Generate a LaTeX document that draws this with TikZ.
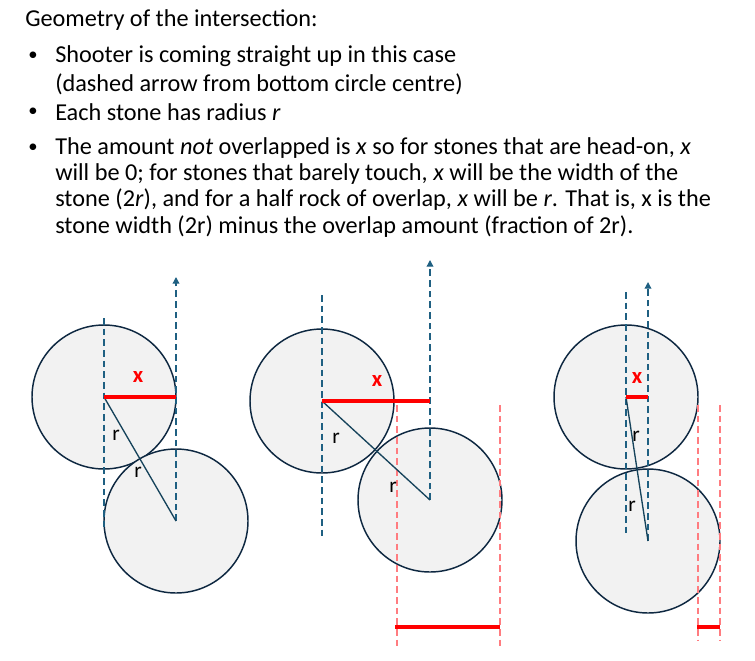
\documentclass[tikz,border=0pt]{standalone}
\usepackage{fontspec}
\setmainfont{Carlito}
\usetikzlibrary{arrows.meta}
\definecolor{stoneedge}{HTML}{0E2841}
\definecolor{stonefill}{HTML}{F2F2F2}
\definecolor{guideblue}{HTML}{1F6082}
\definecolor{lightred}{HTML}{FF7C80}
\begin{document}
\begin{tikzpicture}[x=0.75pt,y=-0.75pt,
  stone/.style={draw=stoneedge,fill=stonefill,line width=1.1pt},
  guide/.style={draw=guideblue,dashed,line width=1pt,dash pattern=on 5pt off 3pt},
  shot/.style={guide,-{Triangle[length=5pt,width=5pt]}},
  radius line/.style={draw=guideblue!70!black,line width=1pt},
  xline/.style={draw=red,line width=2.4pt},
  reddash/.style={draw=lightred,line width=1pt,dash pattern=on 5pt off 3pt},
  txt/.style={anchor=west,inner sep=0pt,font=\fontsize{18.2}{22}\selectfont},
  bul/.style={anchor=west,inner sep=0pt,font=\fontsize{14}{16}\selectfont},
  rlab/.style={inner sep=0pt,font=\fontsize{16}{18}\selectfont},
  xlab/.style={inner sep=0pt,text=red,font=\fontsize{17}{20}\selectfont\bfseries}]
\useasboundingbox (0,0) rectangle (755,660);
% text
\node[txt] (t0) at (25,20) {Geometry of the intersection:};
\node[bul] (b1) at (28,56) {•};
\node[txt] (t1) at (55,56) {Shooter is coming straight up in this case};
\node[txt] (t2) at (55,84) {(dashed arrow from bottom circle centre)};
\node[bul] (b2) at (28,112) {•};
\node[txt] (t3) at (55,112) {Each stone has radius \textit{r}};
\node[bul] (b3) at (28,148) {•};
\node[txt] (t4) at (55,148) {The amount \textit{not} overlapped is \textit{x} so for stones that are head-on, \textit{x}};
\node[txt] (t5) at (55,174) {will be 0; for stones that barely touch, \textit{x} will be the width of the};
\node[txt] (t6) at (55,200) {stone (2\textit{r}), and for a half rock of overlap, \textit{x} will be \textit{r}. That is, x is the};
\node[txt] (t7) at (55,227) {stone width (2r) minus the overlap amount (fraction of 2r).};
% panel 1
\path[stone] (104,397) circle (72);
\path[stone] (176,521) circle (72);
\coordinate (a1) at (104,397); \coordinate (c1) at (176,521);
\coordinate (g1t) at (104,318); \coordinate (g1b) at (104,530);
\coordinate (s1t) at (176,277); \coordinate (x1) at (176,397);
\draw[guide] (g1t) -- (g1b);
\draw[shot] (c1) -- (s1t);
\draw[radius line] (a1) -- (c1);
\draw[xline] (a1) -- (x1);
\node[xlab] (xl1) at (138,377) {x};
\node[rlab] (r1a) at (116,435) {r};
\node[rlab] (r1b) at (138,472) {r};
% panel 2
\path[stone] (322,401) circle (72);
\path[stone] (430,500) circle (72);
\coordinate (a2) at (322,401); \coordinate (c2) at (430,500);
\coordinate (g2t) at (322,295); \coordinate (g2b) at (322,540);
\coordinate (s2t) at (430,260); \coordinate (x2) at (430,401);
\coordinate (d2at) at (397,405); \coordinate (d2ab) at (397,650);
\coordinate (d2bt) at (500,405); \coordinate (d2bb) at (500,650);
\coordinate (w2a) at (395,627); \coordinate (w2b) at (500,627);
\draw[reddash] (d2at) -- (d2ab);
\draw[reddash] (d2bt) -- (d2bb);
\draw[guide] (g2t) -- (g2b);
\draw[shot] (c2) -- (s2t);
\draw[radius line] (a2) -- (c2);
\draw[xline] (a2) -- (x2);
\draw[xline] (w2a) -- (w2b);
\node[xlab] (xl2) at (377,381) {x};
\node[rlab] (r2a) at (336,438) {r};
\node[rlab] (r2b) at (393,487) {r};
% panel 3
\path[stone] (626,397) circle (72);
\path[stone] (648,541) circle (72);
\coordinate (a3) at (626,397); \coordinate (c3) at (648,541);
\coordinate (g3t) at (626,292); \coordinate (g3b) at (626,537);
\coordinate (s3t) at (648,282); \coordinate (x3) at (648,397);
\coordinate (d3at) at (698,405); \coordinate (d3ab) at (698,640);
\coordinate (d3bt) at (720,405); \coordinate (d3bb) at (720,640);
\coordinate (w3a) at (697,627); \coordinate (w3b) at (720,627);
\draw[reddash] (d3at) -- (d3ab);
\draw[reddash] (d3bt) -- (d3bb);
\draw[guide] (g3t) -- (g3b);
\draw[shot] (c3) -- (s3t);
\draw[radius line] (a3) -- (c3);
\draw[xline] (a3) -- (x3);
\draw[xline] (w3a) -- (w3b);
\node[xlab] (xl3) at (637,378) {x};
\node[rlab] (r3a) at (636,436) {r};
\node[rlab] (r3b) at (632,506) {r};
\end{tikzpicture}
\end{document}
